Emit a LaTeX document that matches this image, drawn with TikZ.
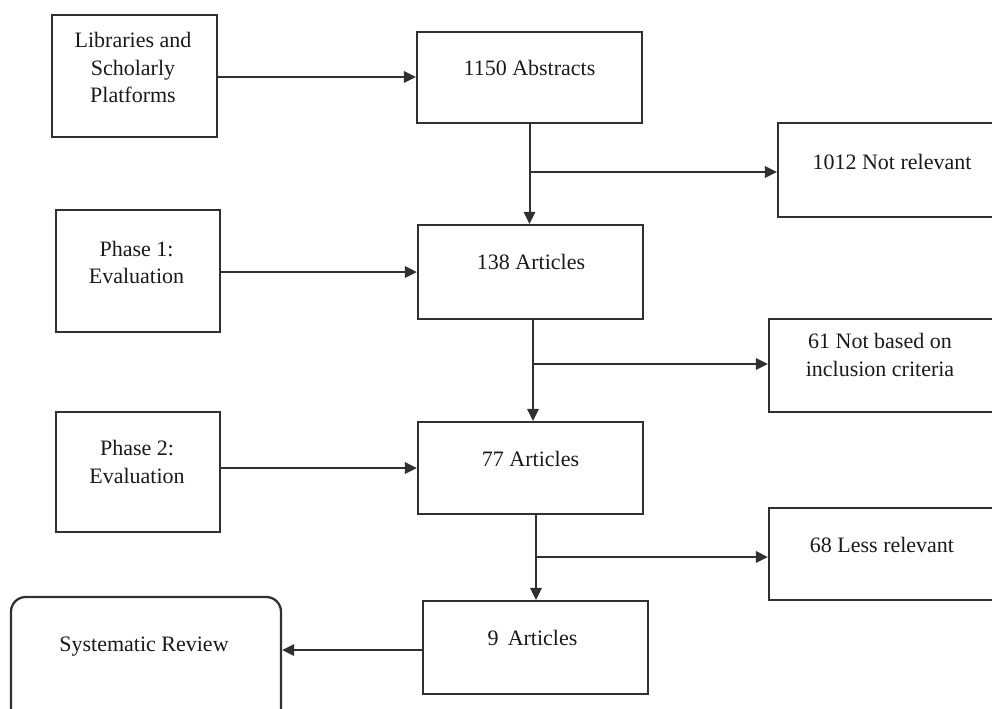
\documentclass[tikz,border=0pt]{standalone}
\usepackage{fontspec}
\setmainfont{Liberation Serif}
\usetikzlibrary{fit,arrows.meta}
\definecolor{edge}{HTML}{303030}
\definecolor{ink}{HTML}{1A1A1A}
\tikzset{
  box/.style={draw=edge, line width=1.7pt, inner sep=0pt, fill=none},
  rbox/.style={box, rounded corners=11pt},
  txt/.style={text=ink, align=center, inner sep=0pt, font=\fontsize{16.5}{20.6}\selectfont},
  conn/.style={draw=edge, line width=1.5pt},
  arr/.style={conn, -{Triangle[length=9pt,width=8.5pt]}}
}
\begin{document}
\begin{tikzpicture}[x=0.75pt,y=-0.75pt]
\useasboundingbox (0,0) rectangle (992,708);
\clip (0,0) rectangle (992,708);
\fill[white] (0,0) rectangle (992,708);
% boxes
\node[box, fit={(52,15) (217,137)}] (lib) {};
\node[box, fit={(417,32) (642,123)}] (abs) {};
\node[box, fit={(778,123) (1006,217)}] (nr1) {};
\node[box, fit={(56,210) (220,332)}] (p1) {};
\node[box, fit={(418,225) (643,319)}] (a138) {};
\node[box, fit={(769,319) (1000,412)}] (nb) {};
\node[box, fit={(56,412) (220,532)}] (p2) {};
\node[box, fit={(418,422) (643,514)}] (a77) {};
\node[box, fit={(769,508) (1000,600)}] (lr) {};
\node[box, fit={(423,601) (648,694)}] (a9) {};
\node[rbox, fit={(11,597) (281,740)}] (sr) {};
% texts
\node[txt] (tlib) at (133,67.5) {Libraries and\\Scholarly\\Platforms};
\node[txt] (tabs) at (529.5,68) {1150 Abstracts};
\node[txt] (tnr1) at (892,162) {1012 Not relevant};
\node[txt] (tp1) at (136.5,262.5) {Phase 1:\\Evaluation};
\node[txt] (ta138) at (531,262) {138 Articles};
\node[txt] (tnb) at (880,355) {61 Not based on\\inclusion criteria};
\node[txt] (tp2) at (137,462) {Phase 2:\\Evaluation};
\node[txt] (ta77) at (530.5,459) {77 Articles};
\node[txt] (tlr) at (882,545) {68 Less relevant};
\node[txt] (ta9) at (532.5,638) {9\, Articles};
\node[txt] (tsr) at (144,647) {Systematic Review};
% branch points
\coordinate (b1) at (529.5,172);
\coordinate (b2) at (533,364);
\coordinate (b3) at (536,557);
\coordinate (l1) at (217,77);
\coordinate (l2) at (220,272);
\coordinate (l3) at (220,468);
\coordinate (l4) at (423,650);
% connectors
\draw[arr] (l1) -- (l1 -| abs.west);
\draw[arr] (abs.south -| b1) -- (a138.north -| b1);
\draw[arr] (b1) -- (b1 -| nr1.west);
\draw[arr] (l2) -- (l2 -| a138.west);
\draw[arr] (a138.south -| b2) -- (a77.north -| b2);
\draw[arr] (b2) -- (b2 -| nb.west);
\draw[arr] (l3) -- (l3 -| a77.west);
\draw[arr] (a77.south -| b3) -- (a9.north -| b3);
\draw[arr] (b3) -- (b3 -| lr.west);
\draw[arr] (l4) -- (l4 -| sr.east);
\end{tikzpicture}
\end{document}
